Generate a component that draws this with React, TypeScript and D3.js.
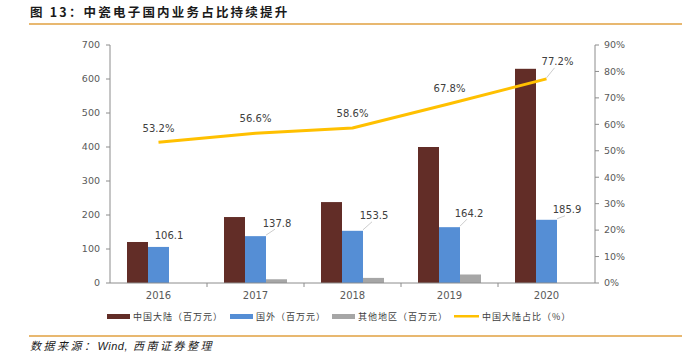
import React from "react";
import * as d3 from "d3";

const years = ["2016", "2017", "2018", "2019", "2020"];
const mainland = [120.6, 194, 238, 400, 630];
const overseas = [106.1, 137.8, 153.5, 164.2, 185.9];
const otherRegion = [0, 11, 15, 25, 0];
const mainlandShare = [53.2, 56.6, 58.6, 67.8, 77.2];
const leftTicks = [0, 100, 200, 300, 400, 500, 600, 700];
const rightTicks = [0, 10, 20, 30, 40, 50, 60, 70, 80, 90];

const seriesNames = ["中国大陆（百万元）", "国外（百万元）", "其他地区（百万元）", "中国大陆占比（%）"];
const colors = ["#622D27", "#558ED5", "#A6A6A6", "#FFC000"];

// label offsets (dx, dy of text center from anchor; leader if true)
const blueLabelOff: [number, number, boolean][] = [
  [0, -11, false],
  [11, -13, true],
  [11, -15, true],
  [9, -14, true],
  [10, -10, true],
];
const lineLabelOff: [number, number, boolean][] = [
  [0, -14, false],
  [0, -15, false],
  [0, -15, false],
  [0, -15, false],
  [11, -17, true],
];

export default function App() {
  const W = 686, H = 355;
  const left = 110, right = 595, top = 45, bottom = 283;
  const x = d3.scaleBand<string>().domain(years).range([left, right]).paddingInner(0).paddingOuter(0);
  const yL = d3.scaleLinear().domain([0, 700]).range([bottom, top]);
  const yR = d3.scaleLinear().domain([0, 90]).range([bottom, top]);
  const bw = 21;
  const cx = (i: number) => (x(years[i]) as number) + x.bandwidth() / 2;
  const line = d3.line<number>().x((_, i) => cx(i)).y((d) => yR(d));
  const axisColor = "#8C8C8C";
  const tickTextColor = "#595959";
  const font = "'DejaVu Sans', Verdana, sans-serif";
  const cjk = "'Noto Sans CJK SC', sans-serif";

  const legendX = [107, 230, 332, 454];
  return (
    <svg width={W} height={H} style={{ position: "absolute", left: 0, top: 0, background: "#fff" }}>
      <text x={30} y={17} fontFamily={cjk} fontWeight="bold" fontSize={12.5} fill="#1a1a1a" letterSpacing={2.2}>
        图 13：中瓷电子国内业务占比持续提升
      </text>
      <line x1={29} x2={682} y1={24} y2={24} stroke="#E0A040" strokeWidth={1.3} />

      {/* bars */}
      {years.map((yr, i) => {
        const x0 = cx(i) - 1.5 * bw;
        return (
          <g key={yr}>
            <rect x={x0} y={yL(mainland[i])} width={bw} height={bottom - yL(mainland[i])} fill={colors[0]} />
            <rect x={x0 + bw} y={yL(overseas[i])} width={bw} height={bottom - yL(overseas[i])} fill={colors[1]} />
            {otherRegion[i] > 0 && (
              <rect x={x0 + 2 * bw} y={yL(otherRegion[i])} width={bw} height={bottom - yL(otherRegion[i])} fill={colors[2]} />
            )}
          </g>
        );
      })}

      {/* axes */}
      <line x1={left} x2={left} y1={top} y2={bottom} stroke={axisColor} />
      <line x1={right} x2={right} y1={top} y2={bottom} stroke={axisColor} />
      <line x1={left} x2={right} y1={bottom} y2={bottom} stroke={axisColor} />
      {leftTicks.map((t) => (
        <g key={"l" + t}>
          <line x1={left - 4} x2={left} y1={yL(t)} y2={yL(t)} stroke={axisColor} />
          <text x={100} y={yL(t)} dy="0.35em" textAnchor="end" fontFamily={font} fontSize={9.5} fill={tickTextColor}>
            {t}
          </text>
        </g>
      ))}
      {rightTicks.map((t) => (
        <g key={"r" + t}>
          <line x1={right} x2={right + 4} y1={yR(t)} y2={yR(t)} stroke={axisColor} />
          <text x={604} y={yR(t)} dy="0.35em" textAnchor="start" fontFamily={font} fontSize={9.5} fill={tickTextColor}>
            {t + "%"}
          </text>
        </g>
      ))}
      {years.slice(1).map((yr) => (
        <line key={"xt" + yr} x1={x(yr) as number} x2={x(yr) as number} y1={bottom} y2={bottom + 4} stroke={axisColor} />
      ))}
      {years.map((yr, i) => (
        <text key={"xl" + yr} x={cx(i)} y={295} dy="0.35em" textAnchor="middle" fontFamily={font} fontSize={10} fill={tickTextColor}>
          {yr}
        </text>
      ))}

      {/* blue labels */}
      {overseas.map((v, i) => {
        const ax = cx(i) + bw / 2;
        const ay = yL(v);
        const [dx, dy, leader] = blueLabelOff[i];
        const lx = ax + dx, ly = ay + dy;
        return (
          <g key={"bl" + i}>
            {leader && <line x1={ax} y1={ay - 1} x2={lx - 2} y2={ly + 6} stroke="#BFBFBF" strokeWidth={0.8} />}
            <text x={lx} y={ly} dy="0.35em" textAnchor="middle" fontFamily={font} fontSize={10} fill="#404040">
              {v.toFixed(1)}
            </text>
          </g>
        );
      })}

      {/* share line */}
      <path d={line(mainlandShare) as string} fill="none" stroke={colors[3]} strokeWidth={3} strokeLinejoin="round" />
      {mainlandShare.map((v, i) => {
        const ax = cx(i);
        const ay = yR(v);
        const [dx, dy, leader] = lineLabelOff[i];
        const lx = ax + dx, ly = ay + dy;
        return (
          <g key={"ll" + i}>
            {leader && <line x1={ax} y1={ay - 1} x2={lx - 3} y2={ly + 6} stroke="#BFBFBF" strokeWidth={0.8} />}
            <text x={lx} y={ly} dy="0.35em" textAnchor="middle" fontFamily={font} fontSize={10} fill="#404040">
              {v.toFixed(1) + "%"}
            </text>
          </g>
        );
      })}

      {/* legend */}
      {seriesNames.map((n, i) => (
        <g key={"lg" + i}>
          {i < 3 ? (
            <rect x={legendX[i]} y={314} width={23} height={5} fill={colors[i]} />
          ) : (
            <rect x={legendX[i]} y={315} width={25} height={2.5} fill={colors[i]} />
          )}
          <text x={legendX[i] + (i < 3 ? 26 : 28)} y={316.5} dy="0.35em" fontFamily={cjk} fontSize={9} fill="#404040" letterSpacing={1}>
            {n}
          </text>
        </g>
      ))}

      <line x1={29} x2={682} y1={336} y2={336} stroke="#E0A040" strokeWidth={1.3} />
      <text x={30} y={350} fontFamily={cjk} fontStyle="italic" fontSize={11} fill="#1a1a1a" letterSpacing={2.5}>
        数据来源：<tspan fontFamily="'Liberation Sans', Arial, sans-serif" letterSpacing={0.5}>Wind,</tspan> 西南证券整理
      </text>
    </svg>
  );
}
